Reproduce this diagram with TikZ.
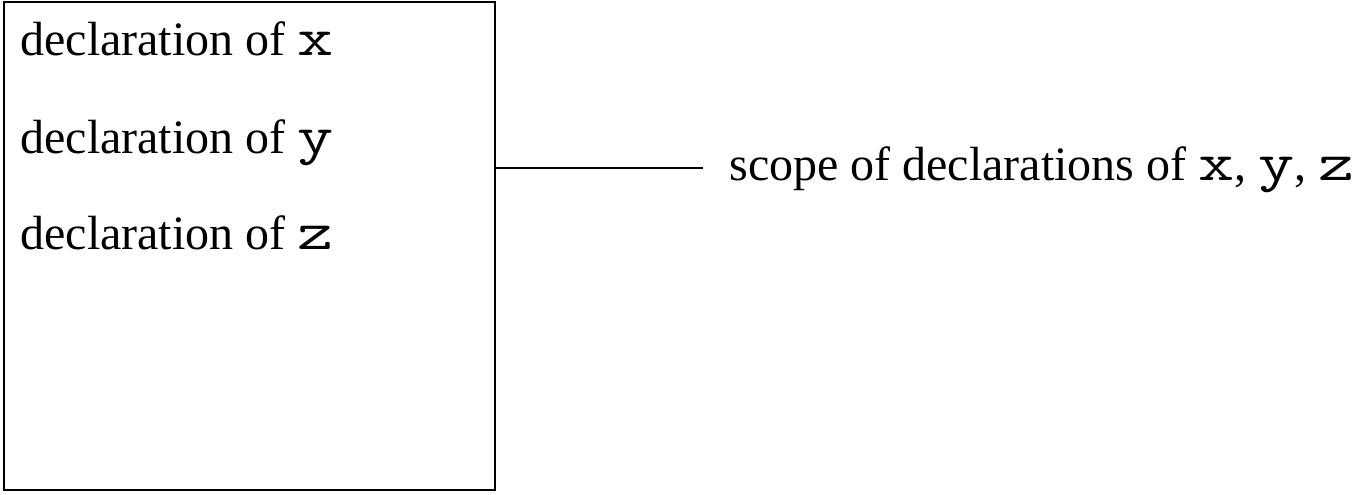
\documentclass[tikz,border=0pt]{standalone}
\usepackage{fontspec}
\setmainfont{Liberation Serif}
\newcommand{\vn}[1]{\scalebox{1.3}[1]{\ttfamily\fontsize{27}{30}\selectfont #1}}

\begin{document}
\begin{tikzpicture}[x=0.5pt,y=0.5pt]
    \tikzset{decl/.style={anchor=base west, inner sep=0pt, font=\fontsize{24}{28}\selectfont}}
    \useasboundingbox (0,0) rectangle (1361,494);
    \node (box) [draw, line width=1pt, anchor=south west, inner sep=0pt,
        minimum width=245.5pt, minimum height=244pt] at (3,3) {};
    \node (dx) [decl] at (20,438) {declaration of \vn{x}};
    \node (dy) [decl] at (20,341) {declaration of \vn{y}};
    \node (dz) [decl] at (20,245) {declaration of \vn{z}};
    \node (scope) [decl] at (729,314) {scope of declarations of \vn{x}, \vn{y}, \vn{z}};
    \coordinate (tip) at ([xshift=-13pt,yshift=6pt]scope.base west);
    \draw[line width=1pt] (box.east |- tip) -- (tip);
\end{tikzpicture}
\end{document}
